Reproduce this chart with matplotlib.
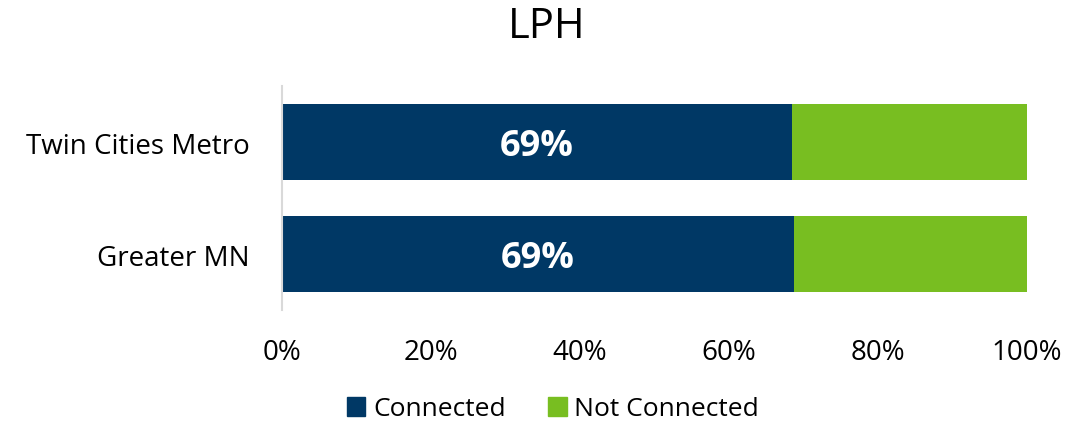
import matplotlib.pyplot as plt
from matplotlib.patches import Patch

plt.rcParams['font.family'] = ['Open Sans', 'DejaVu Sans']

categories = ["Twin Cities Metro", "Greater MN"]
connected = [68.5, 68.7]
not_connected = [31.5, 31.3]
labels = ["69%", "69%"]

dark = "#003865"
green = "#78BE21"

fig = plt.figure(figsize=(10.87, 4.27), dpi=100)
ax = fig.add_axes([282 / 1087, 1 - 311 / 427, 745 / 1087, 224 / 427])

y = [0, 1]
ax.barh(y, connected, height=0.67, color=dark)
ax.barh(y, not_connected, left=connected, height=0.67, color=green)

for yi, c, lab in zip(y, connected, labels):
    ax.text(c / 2, yi, lab, ha="center", va="center_baseline", color="white",
            fontsize=26, fontweight="bold")

ax.set_xlim(0, 100)
ax.set_ylim(1.5, -0.5)
ax.set_yticks(y)
ax.set_yticklabels(categories, fontsize=20)
ax.set_xticks([0, 20, 40, 60, 80, 100])
ax.set_xticklabels([f"{v}%" for v in [0, 20, 40, 60, 80, 100]], fontsize=20)
ax.tick_params(axis="y", length=0, pad=23)
ax.tick_params(axis="x", length=0, pad=20)
for s in ["top", "right", "bottom"]:
    ax.spines[s].set_visible(False)
ax.spines["left"].set_color("#D9D9D9")
ax.spines["left"].set_linewidth(1.5)

fig.text(547 / 1087, 1 - 27 / 427, "LPH", ha="center", va="center", fontsize=30)

handles = [Patch(color=dark, label="Connected"), Patch(color=green, label="Not Connected")]
fig.legend(handles=handles, loc="center", bbox_to_anchor=(553 / 1087, 1 - 410 / 427),
           ncol=2, frameon=False, fontsize=19, handlelength=0.7, handleheight=0.7,
           handletextpad=0.3, columnspacing=1.6, borderpad=0.1)

fig.savefig("out.png", dpi=100)
